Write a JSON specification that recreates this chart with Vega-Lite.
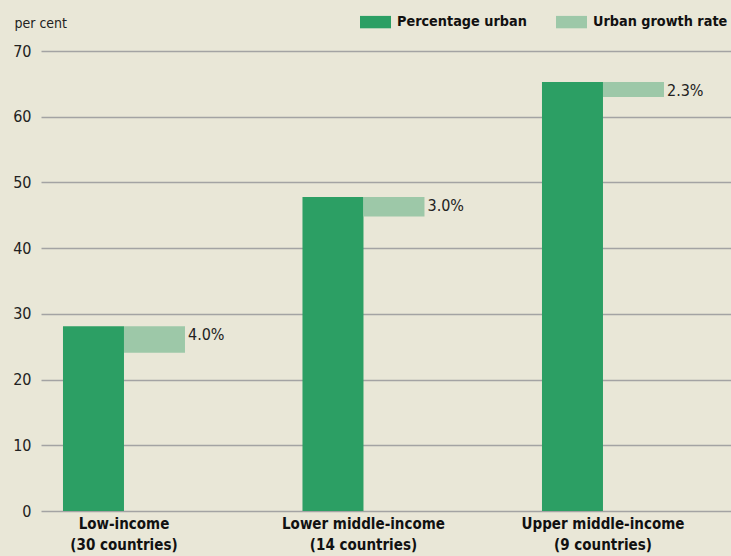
{
  "$schema": "https://vega.github.io/schema/vega-lite/v6.json",
  "width": 690,
  "height": 460,
  "autosize": {"type": "none"},
  "padding": {"left": 41, "top": 51, "right": 0, "bottom": 45},
  "background": "#e9e7d7",
  "config": {
    "view": {"stroke": null},
    "font": "DejaVu Sans Condensed, Roboto, sans-serif"
  },
  "data": {
    "values": [
      {"group": "Low-income (30 countries)", "series": "Percentage urban", "top": 28.1, "bottom": 0, "label": ""},
      {"group": "Low-income (30 countries)", "series": "Urban growth rate", "top": 28.1, "bottom": 24.1, "label": "4.0%"},
      {"group": "Lower middle-income (14 countries)", "series": "Percentage urban", "top": 47.8, "bottom": 0, "label": ""},
      {"group": "Lower middle-income (14 countries)", "series": "Urban growth rate", "top": 47.8, "bottom": 44.8, "label": "3.0%"},
      {"group": "Upper middle-income (9 countries)", "series": "Percentage urban", "top": 65.3, "bottom": 0, "label": ""},
      {"group": "Upper middle-income (9 countries)", "series": "Urban growth rate", "top": 65.3, "bottom": 63.0, "label": "2.3%"}
    ]
  },
  "encoding": {
    "x": {
      "field": "group",
      "type": "nominal",
      "sort": null,
      "scale": {"paddingInner": 0.4906, "paddingOuter": 0.1858, "align": 0.247},
      "axis": {
        "title": null,
        "domain": false,
        "ticks": false,
        "labelAngle": 0,
        "labelPadding": 5,
        "labelFont": "DejaVu Sans Condensed, Roboto, sans-serif",
        "labelFontWeight": "bold",
        "labelFontSize": 15,
        "labelColor": "#111111",
        "labelLineHeight": 21,
        "labelBaseline": "top",
        "labelExpr": "[slice(datum.label, 0, indexof(datum.label, ' (')), slice(datum.label, indexof(datum.label, ' (') + 1)]"
      }
    },
    "xOffset": {
      "field": "series",
      "type": "nominal",
      "scale": {"domain": ["Percentage urban", "Urban growth rate"], "paddingInner": 0, "paddingOuter": 0}
    }
  },
  "layer": [
    {
      "mark": {"type": "bar"},
      "encoding": {
        "y": {
          "field": "top",
          "type": "quantitative",
          "scale": {"domain": [0, 70], "nice": false},
          "axis": {
            "values": [0, 10, 20, 30, 40, 50, 60, 70],
            "title": "per cent",
            "titleAngle": 0,
            "titleAlign": "left",
            "titleBaseline": "alphabetic",
            "titleX": -27,
            "titleY": -24,
            "titleFont": "DejaVu Sans Condensed, Roboto, sans-serif",
            "titleFontWeight": "normal",
            "titleFontSize": 14,
            "titleColor": "#222222",
            "domain": false,
            "ticks": false,
            "labelPadding": 10,
            "labelFont": "DejaVu Sans Condensed, Roboto, sans-serif",
            "labelFontSize": 16,
            "labelColor": "#222222",
            "grid": true,
            "gridColor": "#a3a3a3",
            "gridWidth": 1.6
          }
        },
        "y2": {"field": "bottom"},
        "color": {
          "field": "series",
          "type": "nominal",
          "scale": {"domain": ["Percentage urban", "Urban growth rate"], "range": ["#2c9f64", "#9dc8a8"]},
          "legend": {
            "title": null,
            "orient": "none",
            "direction": "horizontal",
            "legendX": 319,
            "legendY": -44.5,
            "symbolType": "M-1,-0.4H1V0.4H-1Z",
            "symbolSize": 961,
            "symbolStrokeWidth": 0,
            "labelFont": "DejaVu Sans Condensed, Roboto, sans-serif",
            "labelFontWeight": "bold",
            "labelFontSize": 14.3,
            "labelColor": "#111111",
            "labelOffset": 6,
            "columnPadding": 29
          }
        }
      }
    },
    {
      "transform": [{"filter": "datum.label != ''"}],
      "mark": {"type": "text", "align": "left", "baseline": "top", "dx": 33.5, "dy": 1, "fontSize": 16, "color": "#222222", "font": "DejaVu Sans Condensed, Roboto, sans-serif"},
      "encoding": {
        "y": {"field": "top", "type": "quantitative"},
        "text": {"field": "label"}
      }
    }
  ]
}
